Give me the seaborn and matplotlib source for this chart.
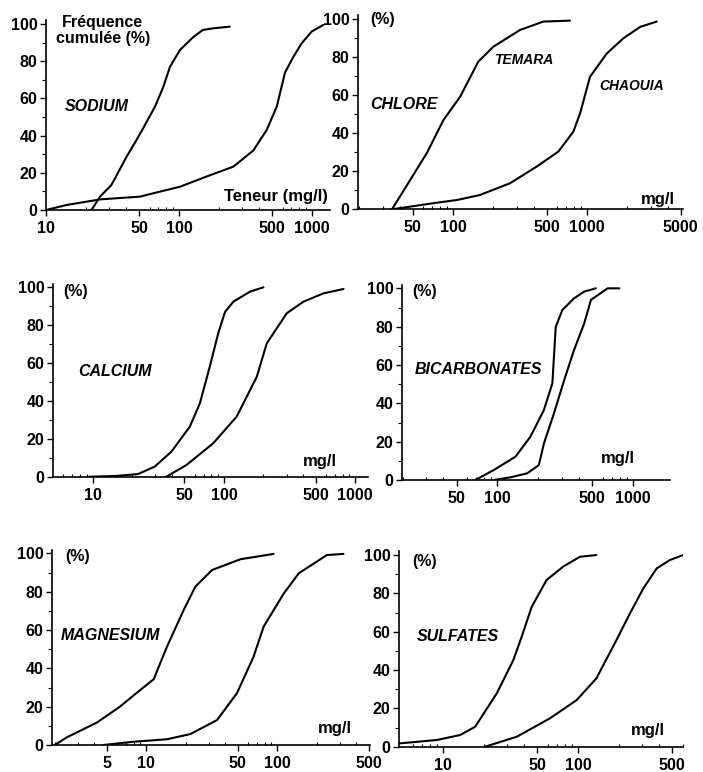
import matplotlib
matplotlib.use("Agg")
import matplotlib.pyplot as plt
import matplotlib.ticker as mticker
import seaborn as sns
import pandas as pd

sns.set_style("ticks")
plt.rcParams['font.family'] = ['Liberation Sans', 'DejaVu Sans']
plt.rcParams['font.weight'] = 'bold'
plt.rcParams['text.color'] = 'black'
plt.rcParams['axes.labelcolor'] = 'black'
plt.rcParams['xtick.color'] = 'black'
plt.rcParams['ytick.color'] = 'black'

# ---------------- data ----------------
sodium_temara_x = [22, 25.5, 31, 40.4, 51, 66, 76, 85.5, 101.6, 128, 151, 181, 241]
sodium_temara_y = [0, 7.2, 13.4, 28.7, 41, 55.6, 66, 77, 86, 93, 96.8, 97.7, 98.6]
sodium_chaouia_x = [10, 14.3, 25.5, 51, 72, 101.6, 161, 256, 362, 456, 543, 627, 725, 835, 995, 1216]
sodium_chaouia_y = [0, 2.7, 5.7, 7.2, 9.9, 12.5, 18, 23.3, 32, 43, 55.6, 74, 82.4, 89.6, 96, 99.5]

chlore_temara_x = [35, 47.8, 63.5, 84.7, 113, 154, 200, 316, 472, 746]
chlore_temara_y = [0, 15.4, 29.5, 47, 59.3, 77.7, 85.6, 94.4, 98.8, 99.3]
chlore_chaouia_x = [35, 71, 107, 158, 266, 421, 611, 790, 887, 1052, 1403, 1866, 2490, 3311]
chlore_chaouia_y = [0, 3.2, 4.9, 7.5, 13.7, 22.5, 30.4, 40.9, 50.5, 69.8, 82, 90, 96, 98.8]

calcium_temara_x = [9.5, 15.2, 22.2, 29.7, 39.8, 55, 65.6, 78, 90.5, 102, 118, 158, 200]
calcium_temara_y = [0, 0.4, 1.4, 5.3, 13.2, 26.4, 38.7, 58, 75.7, 87, 92.4, 97.7, 100]
calcium_chaouia_x = [36.5, 51.9, 82.8, 125, 178, 212, 301, 403, 573, 815]
calcium_chaouia_y = [0, 6.2, 17.6, 31.7, 52.8, 70.4, 86.3, 92.4, 96.8, 99.1]

bicarb_temara_x = [68.7, 94, 136, 175, 220, 254, 269, 301, 367, 436, 532]
bicarb_temara_y = [0, 5.2, 12.2, 22.6, 36.5, 50.4, 80, 88.7, 94.8, 98.3, 100]
bicarb_chaouia_x = [94, 125, 166, 202, 220, 261, 310, 367, 436, 489, 649, 792]
bicarb_chaouia_y = [0, 1.4, 3.5, 7.8, 19, 34.8, 52, 67.8, 81.7, 94, 100, 100]

magnesium_temara_x = [2.0, 2.48, 4.2, 6.3, 9.0, 11.4, 14.4, 19.3, 23.7, 31.8, 52.2, 93.7]
magnesium_temara_y = [0, 4, 11.7, 20, 28.7, 34.3, 51.3, 70.4, 82.6, 91.3, 96.9, 99.7]
magnesium_chaouia_x = [4.7, 8.0, 14.4, 21.7, 34.7, 49.2, 65.9, 78.6, 112, 146, 239, 320]
magnesium_chaouia_y = [0, 1.7, 3, 5.7, 13, 27, 46, 61.7, 79, 89.6, 99.1, 99.7]

sulfates_temara_x = [4.72, 9.0, 13.4, 17.3, 25, 33.2, 38.3, 45.4, 58.6, 77.8, 103.5, 137]
sulfates_temara_y = [1.7, 3.5, 6.1, 10.4, 27.8, 45.2, 57.4, 73, 87, 94, 99.1, 100]
sulfates_chaouia_x = [20.5, 35.2, 62, 97.7, 137, 193, 243, 305, 383, 480, 602]
sulfates_chaouia_y = [0, 5.2, 14.8, 24.3, 35.7, 55.7, 69.6, 82.6, 93, 97.4, 100]

y_ticks = [0, 20, 40, 60, 80, 100]
y_ticklabels = ["0", "20", "40", "60", "80", "100"]

panels = [
    dict(name="SODIUM", curves=[(sodium_temara_x, sodium_temara_y), (sodium_chaouia_x, sodium_chaouia_y)],
         xticks=[10, 50, 100, 500, 1000], xlabels=["10", "50", "100", "500", "1000"],
         xlim=(10, 1365), px=(46, 330, 210, 20.3),
         ylab=("Fréquence\ncumulée (%)", 0.20, 1.03, 'center', 'top'),
         name_pos=(0.067, 0.543), unit=("Teneur (mg/l)", 0.993, 0.069)),
    dict(name="CHLORE", curves=[(chlore_temara_x, chlore_temara_y), (chlore_chaouia_x, chlore_chaouia_y)],
         xticks=[50, 100, 500, 1000, 5000], xlabels=["50", "100", "500", "1000", "5000"],
         xlim=(19.5, 5200), px=(358, 683, 209.3, 15.5),
         ylab=("(%)", 0.037, 0.977, 'left', 'center'),
         name_pos=(0.037, 0.543), unit=("mg/l", 0.975, 0.048)),
    dict(name="CALCIUM", curves=[(calcium_temara_x, calcium_temara_y), (calcium_chaouia_x, calcium_chaouia_y)],
         xticks=[10, 50, 100, 500, 1000], xlabels=["10", "50", "100", "500", "1000"],
         xlim=(5, 1250), px=(53, 368, 476.7, 283.5),
         ylab=("(%)", 0.032, 0.958, 'left', 'center'),
         name_pos=(0.079, 0.543), unit=("mg/l", 0.90, 0.078)),
    dict(name="BICARBONATES", curves=[(bicarb_temara_x, bicarb_temara_y), (bicarb_chaouia_x, bicarb_chaouia_y)],
         xticks=[50, 100, 500, 1000], xlabels=["50", "100", "500", "1000"],
         xlim=(19.8, 1870), px=(402, 670, 480, 284.5),
         ylab=("(%)", 0.037, 0.963, 'left', 'center'),
         name_pos=(0.049, 0.566), unit=("mg/l", 0.869, 0.111)),
    dict(name="MAGNESIUM", curves=[(magnesium_temara_x, magnesium_temara_y), (magnesium_chaouia_x, magnesium_chaouia_y)],
         xticks=[5, 10, 50, 100, 500], xlabels=["5", "10", "50", "100", "500"],
         xlim=(1.91, 510), px=(52, 370, 745, 549.5),
         ylab=("(%)", 0.041, 0.963, 'left', 'center'),
         name_pos=(0.028, 0.558), unit=("mg/l", 0.943, 0.085)),
    dict(name="SULFATES", curves=[(sulfates_temara_x, sulfates_temara_y), (sulfates_chaouia_x, sulfates_chaouia_y)],
         xticks=[10, 50, 100, 500], xlabels=["10", "50", "100", "500"],
         xlim=(4.72, 600), px=(399, 683, 746.7, 551.2),
         ylab=("(%)", 0.046, 0.946, 'left', 'center'),
         name_pos=(0.063, 0.563), unit=("mg/l", 0.937, 0.085)),
]

W, H = 703, 772
fig = plt.figure(figsize=(W / 100, H / 100), dpi=100)
fig.patch.set_facecolor("white")

for p in panels:
    l, r, b, t = p["px"]
    ax = fig.add_axes([l / W, (H - b) / H, (r - l) / W, (b - t) / H])
    ax.set_xscale("log")
    for cx, cy in p["curves"]:
        df = pd.DataFrame({"x": cx, "y": cy})
        sns.lineplot(data=df, x="x", y="y", ax=ax, color="black", lw=1.5,
                     sort=False, estimator=None)
    ax.set_xlim(*p["xlim"])
    ax.set_ylim(0, 102)
    ax.set_xlabel("")
    ax.set_ylabel("")
    ax.set_xticks(p["xticks"])
    ax.set_xticklabels(p["xlabels"])
    ax.xaxis.set_minor_locator(mticker.LogLocator(base=10, subs=[2, 3, 4, 6, 7, 8, 9]))
    ax.xaxis.set_minor_formatter(mticker.NullFormatter())
    ax.set_yticks(y_ticks)
    ax.set_yticklabels(y_ticklabels)
    ax.yaxis.set_minor_locator(mticker.MultipleLocator(10))
    sns.despine(ax=ax)
    for s in ("left", "bottom"):
        ax.spines[s].set_linewidth(1.2)
        ax.spines[s].set_color("black")
    ax.tick_params(axis="both", which="major", length=4, width=1.0, color="black",
                   labelsize=11.5, pad=2, labelcolor="black")
    ax.tick_params(axis="x", which="major", pad=4)
    ax.tick_params(axis="x", which="minor", length=2, width=0.8, direction="in", color="black")
    ax.tick_params(axis="y", which="minor", length=3, width=0.8, color="black")
    for lab in ax.get_xticklabels() + ax.get_yticklabels():
        lab.set_fontweight("bold")
    ax.set_facecolor("white")

    txt, fx, fy, ha, va = p["ylab"]
    ax.text(fx, fy, txt, transform=ax.transAxes, ha=ha, va=va, fontsize=11.5,
            fontweight="bold", linespacing=1.15, clip_on=False, color="black")
    nx, ny = p["name_pos"]
    ax.text(nx, ny, p["name"], transform=ax.transAxes, ha="left", va="center",
            fontsize=11.5, fontweight="bold", fontstyle="italic", color="black")
    ut, ux, uy = p["unit"]
    ax.text(ux, uy, ut, transform=ax.transAxes, ha="right", va="center",
            fontsize=12, fontweight="bold", color="black")
    if p["name"] == "CHLORE":
        ax.text(0.42, 0.77, "TEMARA", transform=ax.transAxes, ha="left", va="center",
                fontsize=10, fontweight="bold", fontstyle="italic", color="black")
        ax.text(0.742, 0.636, "CHAOUIA", transform=ax.transAxes, ha="left", va="center",
                fontsize=10, fontweight="bold", fontstyle="italic", color="black")

fig.savefig("out.png", dpi=100, facecolor="white")
